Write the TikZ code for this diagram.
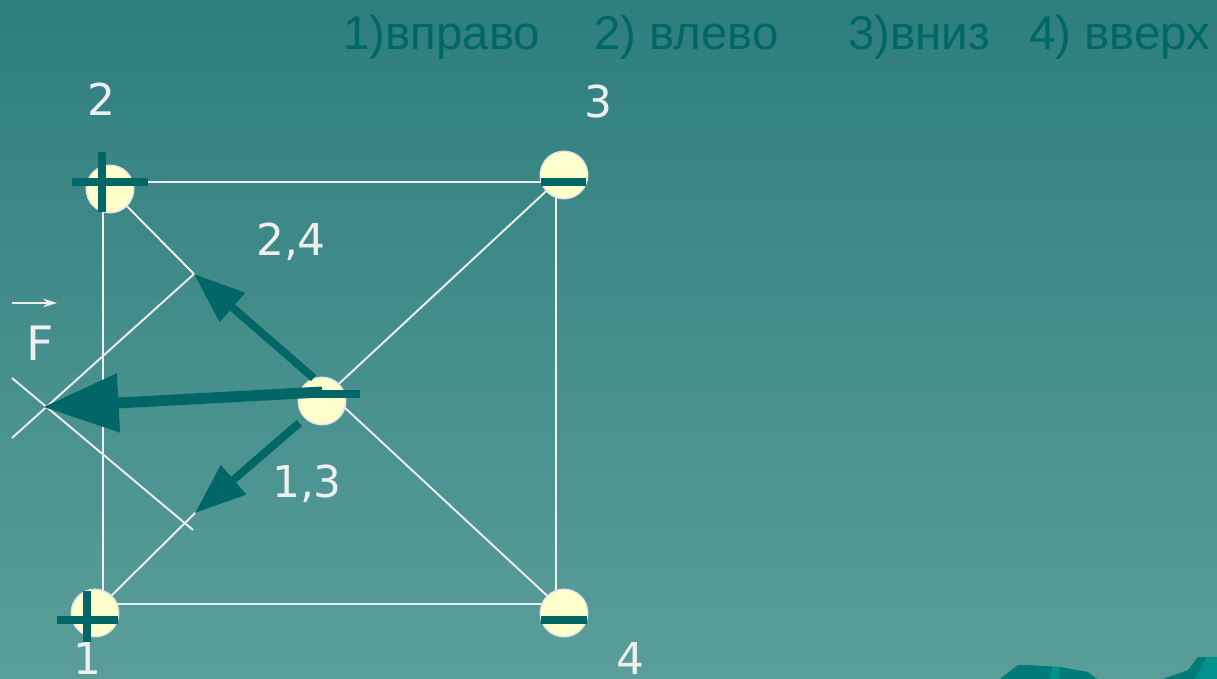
\documentclass[tikz,border=0pt]{standalone}
\usepackage{fontspec}
\setmainfont{DejaVu Sans}
\newfontfamily\arialf{Liberation Sans}
\usepackage{xcolor}
\usetikzlibrary{arrows.meta}
\definecolor{bgtop}{HTML}{2E7E7E}
\definecolor{bgbot}{HTML}{5A9E9A}
\definecolor{ink}{HTML}{006666}
\definecolor{chg}{HTML}{FFFFCC}
\definecolor{rim}{HTML}{E4E4E4}
\definecolor{pale}{HTML}{EEEEEE}
\definecolor{sea}{HTML}{007B78}
\definecolor{seal}{HTML}{00928E}

\begin{document}
\begin{tikzpicture}[x=0.02cm,y=-0.02cm,
    wire/.style={draw=pale,line width=1.1pt},
    charge/.style={circle,fill=chg,draw=rim,line width=0.8pt,minimum size=0.95cm,inner sep=0pt},
    bar/.style={draw=ink,line width=4.5pt},
    force/.style={draw=ink,line width=4.5pt,-{Triangle[length=29pt,width=21pt]}},
    total/.style={draw=ink,line width=6.2pt,-{Triangle[length=43pt,width=32pt]}},
    lab/.style={text=pale,font=\fontsize{25}{30}\selectfont,inner sep=0pt,anchor=base},
    opt/.style={text=ink,font=\arialf\fontsize{27}{32}\selectfont,inner sep=0pt,anchor=base west}]
  \useasboundingbox (0,0) rectangle (1217,679);
  \shade[top color=bgtop,bottom color=bgbot] (0,0) rectangle (1217,679);
  \fill[sea] (1000,679) -- (1018,665) -- (1029,665) -- (1060,667) -- (1088,672) -- (1097,679) -- cycle;
  \fill[seal] (1050,679) -- (1052,667) -- (1060,667) -- (1059,679) -- cycle;
  \fill[sea] (1163,679) -- (1188,670) -- (1198,657) -- (1207,657) -- (1195,679) -- cycle;
  \fill[seal] (1207,657) -- (1217,657) -- (1217,679) -- (1195,679) -- cycle;

  \coordinate (c1) at (103,604);
  \coordinate (c2) at (103,182);
  \coordinate (c3) at (556,182);
  \coordinate (c4) at (556,604);
  \coordinate (mid) at (329,393);
  \coordinate (p) at (43,407);
  \coordinate (t24) at (194,274);
  \coordinate (t13) at (195,513);
  \coordinate (x1) at (12,438);
  \coordinate (x2) at (12,378);
  \coordinate (e13) at (193,530);
  \draw[wire] (c1) rectangle (c3);
  \draw[wire] (c2) -- (t24);
  \draw[wire] (c1) -- (t13);
  \draw[wire] (c3) -- (mid) -- (c4);
  \draw[wire] (x1) -- (t24);
  \draw[wire] (x2) -- (e13);

  \node[charge] (q2) at (110,189) {};
  \node[charge] (q3) at (564,175) {};
  \node[charge] (q1) at (95,613) {};
  \node[charge] (q4) at (564,613) {};
  \node[charge] (q0) at (322,401) {};

  \draw[force] (q0.110) -- (t24);
  \draw[force,shorten <=4pt] (q0.225) -- (t13);
  \draw[total] ([yshift=0.18cm]q0.center) -- (p);

  % signs
  \draw[bar] (72,182) -- (148,182) (102,152) -- (102,212);
  \draw[bar] (57,620) -- (118,620) (87,591) -- (87,642);
  \draw[bar] (541,182) -- (586,182);
  \draw[bar] (541,620) -- (587,620);
  \draw[bar,line width=5pt] (298,394) -- (360,394);

  \node[lab] (n2) at (101,115) {2};
  \node[lab] (n3) at (598,117) {3};
  \node[lab] (n1) at (87,674) {1};
  \node[lab] (n4) at (630,674) {4};
  \node[lab] (n24) at (291,255) {2,4};
  \node[lab] (n13) at (307,497) {1,3};
  \node[lab,font=\fontsize{27}{32}\selectfont] (nf) at (40,360) {F};
  \coordinate (f0) at (12,303);
  \coordinate (f1) at (57,303);
  \draw[pale,line width=1pt,-{Stealth[length=8pt,width=5pt]}] (f0) -- (f1);

  \node[opt] (o1) at (343,50) {1)вправо};
  \node[opt] (o2) at (594,50) {2) влево};
  \node[opt] (o3) at (848,50) {3)вниз};
  \node[opt] (o4) at (1029,50) {4) вверх};
\end{tikzpicture}
\end{document}
